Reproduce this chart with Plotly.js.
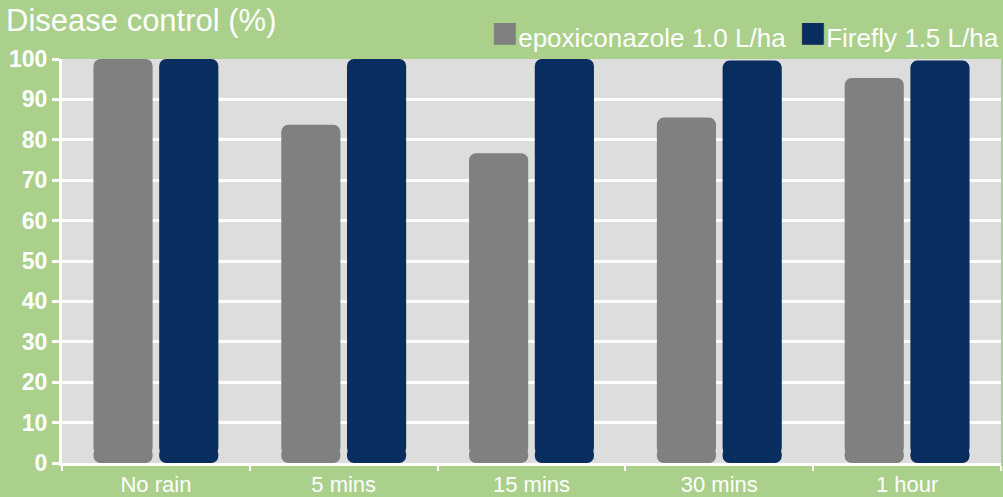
<!DOCTYPE html>
<html>
<head>
<meta charset="utf-8">
<script src="https://cdn.plot.ly/plotly-3.0.1.min.js"></script>
<style>html,body{margin:0;padding:0;background:#aad08c;}#chart{width:1003px;height:497px;}</style>
</head>
<body>
<div id="chart"></div>
<script>
const categories = ["No rain", "5 mins", "15 mins", "30 mins", "1 hour"];
const epoxiconazole = [100, 83.7, 76.7, 85.5, 95.3];
const firefly = [100, 100, 100, 99.6, 99.6];
const seriesNames = ["epoxiconazole 1.0 L/ha", "Firefly 1.5 L/ha"];
const seriesColors = ["#808080", "#0a2d5f"];
const yTicks = [0, 10, 20, 30, 40, 50, 60, 70, 80, 90, 100];

const radius = 7;
const footH = 4;   // height (axis units) of the bottom piece that carries the lower rounded corners
function twoEndedBars(values, name, color, group) {
  const upper = {
    type: "bar", x: categories, y: values.map(v => v - footH / 2), base: values.map(() => footH / 2),
    name: name, offsetgroup: group, legendgroup: group,
    marker: {color: color, cornerradius: radius, line: {width: 0}},
    customdata: values, hovertemplate: "%{x}: %{customdata}<extra>" + name + "</extra>",
    showlegend: false
  };
  const lower = {
    type: "bar", x: categories, y: values.map(() => -footH), base: values.map(() => footH),
    name: name, offsetgroup: group, legendgroup: group,
    marker: {color: color, cornerradius: radius, line: {width: 0}},
    hoverinfo: "skip", showlegend: false
  };
  return [lower, upper];
}

const data = [
  ...twoEndedBars(epoxiconazole, seriesNames[0], seriesColors[0], "a"),
  ...twoEndedBars(firefly, seriesNames[1], seriesColors[1], "b")
];

function legendText(i) {
  return '<span style="font-size:45px;color:' + seriesColors[i] + '">\u25A0</span>' + seriesNames[i];
}

const layout = {
  width: 1003, height: 497,
  paper_bgcolor: "#aad08c",
  plot_bgcolor: "#dddddd",
  margin: {l: 62, r: 2, t: 59, b: 34},
  font: {family: "Liberation Sans, Arial, sans-serif", color: "#ffffff"},
  title: {
    text: "Disease control (%)",
    font: {size: 31, color: "#ffffff", family: "Liberation Sans, Arial, sans-serif"},
    x: 0.006, xanchor: "left", xref: "container",
    y: 0.982, yanchor: "top", yref: "container"
  },
  barmode: "group",
  bargap: 0.3,
  bargroupgap: 0.1,
  showlegend: false,
  annotations: [
    {text: legendText(0), xref: "paper", x: 0.773, xanchor: "right",
     yref: "paper", y: 1.067, yanchor: "middle", showarrow: false,
     font: {size: 26, color: "#ffffff"}},
    {text: legendText(1), xref: "paper", x: 1.0, xanchor: "right",
     yref: "paper", y: 1.067, yanchor: "middle", showarrow: false,
     font: {size: 26, color: "#ffffff"}}
  ],
  xaxis: {
    type: "category",
    showgrid: false,
    showline: true, linecolor: "#ffffff", linewidth: 3,
    ticks: "outside", tickson: "boundaries", ticklen: 5, tickwidth: 2, tickcolor: "#ffffff",
    tickfont: {size: 22, color: "#ffffff"},
    zeroline: false, fixedrange: true
  },
  yaxis: {
    range: [0, 100], tickvals: yTicks,
    showgrid: true, gridcolor: "#ffffff", gridwidth: 3,
    showline: true, linecolor: "#ffffff", linewidth: 3,
    ticks: "outside", ticklen: 7, tickwidth: 3, tickcolor: "#ffffff",
    tickfont: {size: 23, color: "#ffffff", weight: "bold"},
    zeroline: false, fixedrange: true
  }
};

Plotly.newPlot("chart", data, layout, {displayModeBar: false, responsive: false});
</script>
</body>
</html>
